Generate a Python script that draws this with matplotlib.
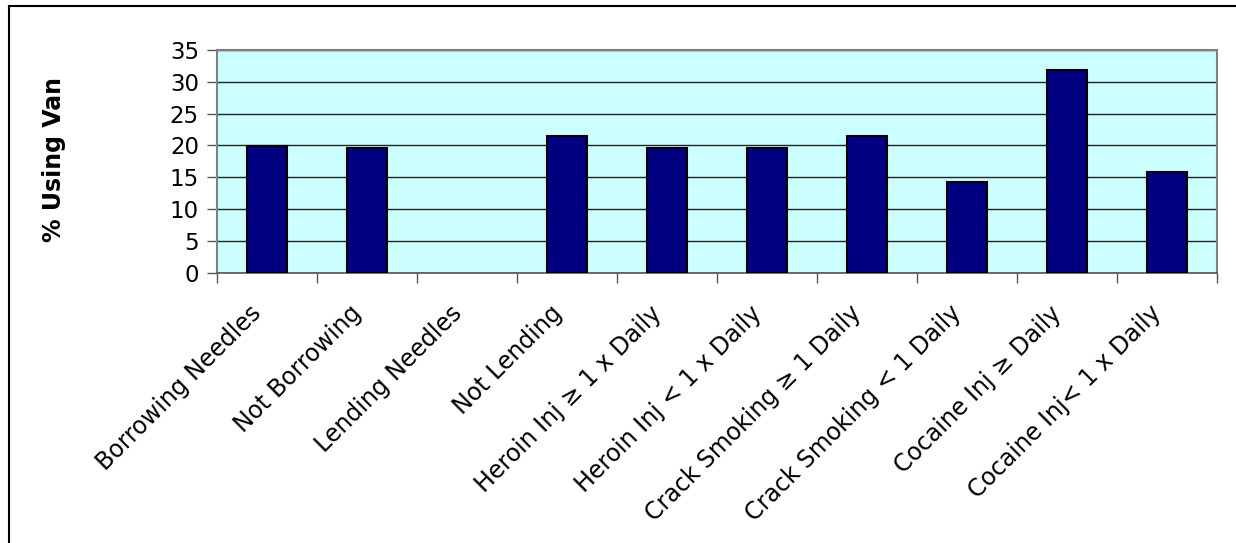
import numpy as np
import matplotlib
matplotlib.use("Agg")
import matplotlib.pyplot as plt
import matplotlib.transforms as mtransforms
from matplotlib.lines import Line2D
from matplotlib.ticker import FixedLocator, NullFormatter, FixedFormatter

categories = ["Borrowing Needles", "Not Borrowing", "Lending Needles", "Not Lending",
              "Heroin Inj \u2265 1 x Daily", "Heroin Inj < 1 x Daily",
              "Crack Smoking \u2265 1 Daily", "Crack Smoking < 1 Daily",
              "Cocaine Inj \u2265 Daily", "Cocaine Inj< 1 x Daily"]
values = [19.9, 19.6, np.nan, 21.5, 19.6, 19.6, 21.5, 14.3, 31.8, 15.8]
y_ticks = [0, 5, 10, 15, 20, 25, 30, 35]
y_label = "% Using Van"

plt.rcParams['font.family'] = ['DejaVu Sans']

W, H = 1236, 543
fig = plt.figure(figsize=(W / 100, H / 100), dpi=100)
ax = fig.add_axes([217 / W, 1 - 273 / H, 1000 / W, (273 - 49.7) / H])
ax.set_facecolor('#CCFFFF')

n = len(categories)
pos = np.arange(n) + 0.5
ax.bar(pos, values, width=0.4, color='#000080', edgecolor='black', linewidth=1.5, zorder=3)

ax.set_xlim(0, n)
ax.set_ylim(0, 35)
ax.set_yticks(y_ticks)
ax.yaxis.grid(True, color='#222222', linewidth=1.0, zorder=1)
ax.set_axisbelow(True)

ax.xaxis.set_major_locator(FixedLocator(np.arange(n + 1)))
ax.xaxis.set_major_formatter(NullFormatter())
ax.xaxis.set_minor_locator(FixedLocator(pos))
ax.xaxis.set_minor_formatter(FixedFormatter(categories))
ax.tick_params(axis='x', which='major', length=7, width=1, color='#555555', direction='out')
ax.tick_params(axis='x', which='minor', length=0, labelsize=17, pad=26.5)
ax.tick_params(axis='y', which='major', length=7, width=1, color='#555555', labelsize=16.5, pad=6)
shift = mtransforms.ScaledTranslation(-9 / 100, 0, fig.dpi_scale_trans)
for lab in ax.xaxis.get_minorticklabels():
    lab.set_rotation(45)
    lab.set_ha('right')
    lab.set_va('center')
    lab.set_rotation_mode('anchor')
    lab.set_transform(lab.get_transform() + shift)

for s in ax.spines.values():
    s.set_color('#808080')
    s.set_linewidth(1.5)
ax.spines['bottom'].set_color('#555555')
ax.spines['bottom'].set_linewidth(1.2)

fig.text(54 / W, 1 - 160 / H, y_label, rotation=90, ha='center', va='center',
         fontsize=17, fontweight='bold')

# outer chart border (top and left only visible)
fig.add_artist(Line2D([8.5 / W, 1.0], [1 - 5.5 / H, 1 - 5.5 / H], color='black', linewidth=1.5,
                      transform=fig.transFigure))
fig.add_artist(Line2D([8.5 / W, 8.5 / W], [0, 1 - 5.5 / H], color='black', linewidth=1.5,
                      transform=fig.transFigure))

fig.savefig('out.png', dpi=100)
